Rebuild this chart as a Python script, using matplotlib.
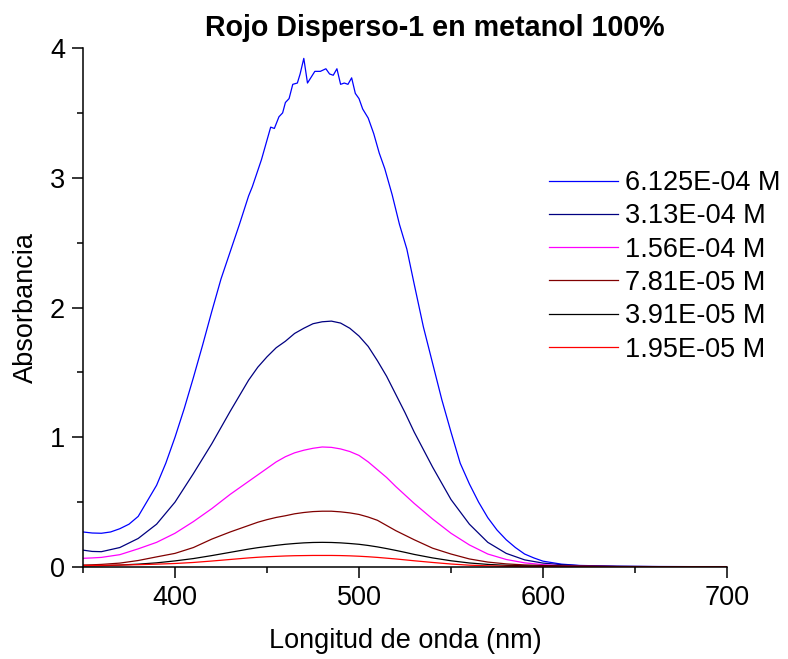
import numpy as np
import matplotlib
matplotlib.use("Agg")
from matplotlib import pyplot as plt
from matplotlib.ticker import MultipleLocator

plt.rcParams['font.family'] = ['Liberation Sans', 'DejaVu Sans']

#-----------------------Data-----------------------#

# common wavelength grid for the smooth spectra [nm]
wl = [350, 355, 360, 370, 380, 390, 400, 410, 420, 430, 440, 445, 450, 455,
      460, 465, 470, 475, 480, 485, 490, 495, 500, 505, 510, 515, 520, 525,
      530, 540, 550, 560, 570, 580, 590, 600, 610, 620, 640, 660, 680, 700]

a_313e4 = [0.13, 0.12, 0.118, 0.15, 0.22, 0.33, 0.50, 0.72, 0.95, 1.20, 1.44,
           1.54, 1.62, 1.69, 1.74, 1.80, 1.84, 1.875, 1.89, 1.895, 1.88, 1.84,
           1.78, 1.70, 1.59, 1.47, 1.33, 1.19, 1.04, 0.77, 0.52, 0.33, 0.19,
           0.105, 0.055, 0.03, 0.018, 0.01, 0.005, 0.003, 0.002, 0.002]
a_156e4 = [0.067, 0.07, 0.074, 0.095, 0.14, 0.19, 0.26, 0.35, 0.45, 0.56, 0.66,
           0.71, 0.76, 0.81, 0.85, 0.88, 0.90, 0.915, 0.925, 0.922, 0.91,
           0.89, 0.86, 0.81, 0.75, 0.69, 0.62, 0.555, 0.49, 0.37, 0.26, 0.17,
           0.10, 0.058, 0.032, 0.018, 0.01, 0.006, 0.003, 0.002, 0.001, 0.001]
a_781e5 = [0.015, 0.017, 0.02, 0.03, 0.05, 0.078, 0.105, 0.15, 0.215, 0.27,
           0.32, 0.345, 0.365, 0.382, 0.395, 0.41, 0.42, 0.427, 0.43, 0.43,
           0.425, 0.417, 0.405, 0.385, 0.36, 0.32, 0.28, 0.245, 0.21, 0.145,
           0.10, 0.062, 0.038, 0.024, 0.016, 0.012, 0.009, 0.007, 0.004,
           0.003, 0.002, 0.002]
a_391e5 = [0.008, 0.009, 0.01, 0.015, 0.022, 0.032, 0.047, 0.065, 0.088, 0.113,
           0.138, 0.149, 0.158, 0.167, 0.175, 0.181, 0.186, 0.189, 0.19, 0.189,
           0.186, 0.181, 0.175, 0.166, 0.155, 0.142, 0.128, 0.113, 0.097,
           0.07, 0.048, 0.031, 0.02, 0.013, 0.009, 0.006, 0.005, 0.004, 0.003,
           0.002, 0.002, 0.002]
a_195e5 = [0.012, 0.012, 0.013, 0.015, 0.018, 0.022, 0.027, 0.035, 0.046, 0.058,
           0.07, 0.075, 0.079, 0.082, 0.085, 0.087, 0.088, 0.089, 0.089, 0.089,
           0.088, 0.086, 0.083, 0.079, 0.074, 0.068, 0.062, 0.055, 0.048,
           0.035, 0.023, 0.014, 0.009, 0.006, 0.004, 0.003, 0.002, 0.002,
           0.002, 0.001, 0.001, 0.001]

# most concentrated sample: noisy around the maximum, so it has its own grid
wl_612e4 = [350, 355, 360, 365, 370, 375, 380, 385, 390, 395, 400, 405, 410,
            415, 420, 425, 430, 435, 440, 442, 447, 452, 454, 456.5, 458.5,
            460, 462, 464, 466.5, 468, 470, 472, 476, 479, 482, 484, 486, 488,
            490, 492, 494, 496, 498, 500, 502, 505, 508, 511, 514, 518, 522,
            526, 530, 535, 540, 545, 550, 555, 560, 565, 570, 575, 580, 585,
            590, 595, 600, 610, 620, 640, 660, 680, 700]
a_612e4 = [0.27, 0.262, 0.26, 0.27, 0.295, 0.33, 0.39, 0.51, 0.63, 0.80, 1.0,
           1.22, 1.46, 1.71, 1.97, 2.22, 2.43, 2.64, 2.86, 2.93, 3.14, 3.39,
           3.38, 3.47, 3.50, 3.58, 3.61, 3.72, 3.73, 3.80, 3.92, 3.73, 3.82,
           3.82, 3.84, 3.80, 3.79, 3.84, 3.72, 3.73, 3.72, 3.77, 3.65, 3.61,
           3.53, 3.46, 3.34, 3.19, 3.07, 2.87, 2.64, 2.45, 2.18, 1.85, 1.57,
           1.29, 1.04, 0.80, 0.64, 0.50, 0.38, 0.285, 0.21, 0.15, 0.10, 0.07,
           0.045, 0.022, 0.012, 0.006, 0.004, 0.003, 0.003]

labels = ['6.125E-04 M', '3.13E-04 M', '1.56E-04 M',
          '7.81E-05 M', '3.91E-05 M', '1.95E-05 M']
colors = ['#0000FF', '#000080', '#FF00FF', '#800000', '#000000', '#FF0000']

#-----------------------Plot-----------------------#

fs = 19.5
fig = plt.figure(figsize=(7.88, 6.59), dpi=100)
ax = fig.add_axes([83/788, 1 - 567/659, (727 - 83)/788, (567 - 48)/659])

series = [(wl_612e4, a_612e4), (wl, a_313e4), (wl, a_156e4),
          (wl, a_781e5), (wl, a_391e5), (wl, a_195e5)]
for (x, y), lab, c in zip(series, labels, colors):
    ax.plot(x, y, color=c, lw=0.9, label=lab)

ax.set_xlim(350, 700)
ax.set_ylim(0, 4)
ax.xaxis.set_major_locator(MultipleLocator(100))
ax.xaxis.set_minor_locator(MultipleLocator(50))
ax.yaxis.set_major_locator(MultipleLocator(1))
ax.yaxis.set_minor_locator(MultipleLocator(0.5))

for side in ['top', 'right']:
    ax.spines[side].set_visible(False)
for side in ['left', 'bottom']:
    ax.spines[side].set_linewidth(1.1)

ax.tick_params(which='major', direction='out', length=8, width=1.1,
               labelsize=fs, pad=5)
ax.tick_params(which='minor', direction='out', length=4.5, width=1.1)

ax.set_xlabel('Longitud de onda (nm)', fontsize=fs, labelpad=12)
ax.set_ylabel('Absorbancia', fontsize=fs, labelpad=8)
fig.text(435/788, 1 - 28/659, 'Rojo Disperso-1 en metanol 100%',
         fontsize=20.6, fontweight='bold', ha='center', va='center')

ax.legend(loc='upper left', bbox_to_anchor=(549/788, 1 - 170/659),
          bbox_transform=fig.transFigure, frameon=False, fontsize=fs,
          handlelength=2.55, handletextpad=0.25, labelspacing=0.27,
          borderpad=0, borderaxespad=0)

fig.savefig('out.png', dpi=100)
